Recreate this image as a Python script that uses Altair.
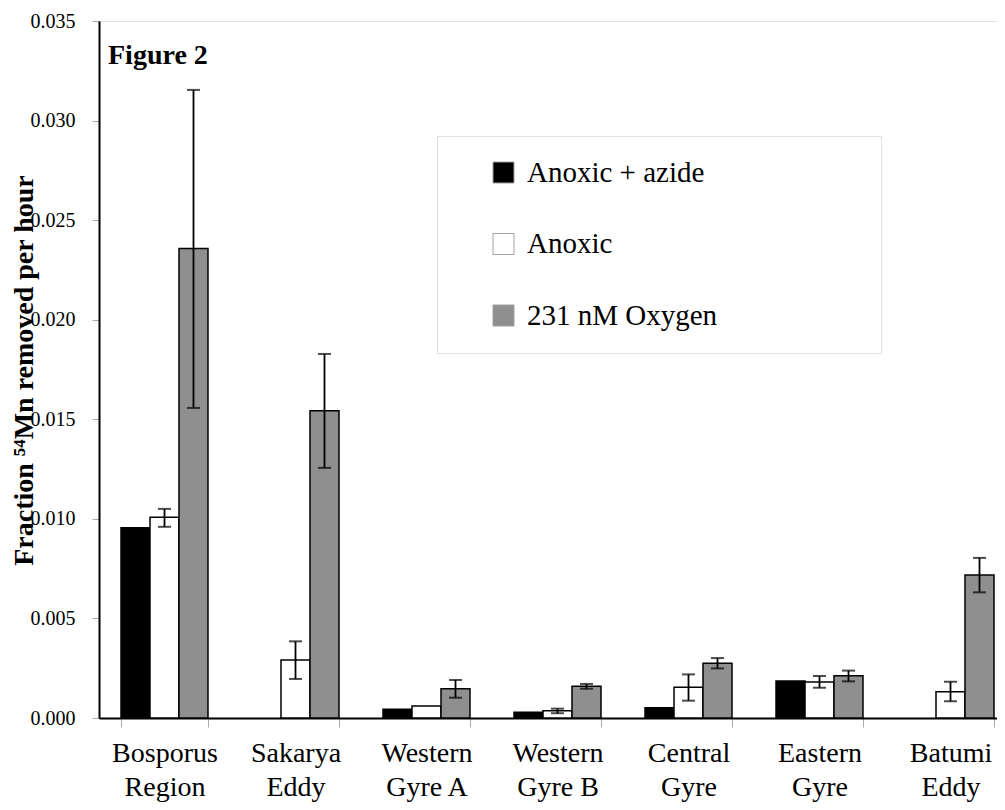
import altair as alt
import pandas as pd

regions = ["Bosporus Region", "Sakarya Eddy", "Western Gyre A", "Western Gyre B",
           "Central Gyre", "Eastern Gyre", "Batumi Eddy"]
series = ["Anoxic + azide", "Anoxic", "231 nM Oxygen"]
colors = ["#000000", "#ffffff", "#8f8f8f"]

azide = [0.00955, None, 0.00044, 0.00029, 0.00052, 0.00186, None]
anoxic = [0.01008, 0.00291, 0.00060, 0.00037, 0.00154, 0.00181, 0.00132]
anoxic_lo = [0.00960, 0.00196, None, 0.00024, 0.00087, 0.00152, 0.00084]
anoxic_hi = [0.01050, 0.00385, None, 0.00047, 0.00219, 0.00211, 0.00182]
oxygen = [0.02357, 0.01543, 0.00147, 0.00159, 0.00275, 0.00212, 0.00718]
oxygen_lo = [0.01557, 0.01256, 0.00102, 0.00147, 0.00249, 0.00184, 0.00631]
oxygen_hi = [0.03154, 0.01828, 0.00191, 0.00171, 0.00301, 0.00238, 0.00804]

rows = []
for i, r in enumerate(regions):
    rows.append({"region": r, "series": series[0], "value": azide[i], "lo": None, "hi": None})
    rows.append({"region": r, "series": series[1], "value": anoxic[i], "lo": anoxic_lo[i], "hi": anoxic_hi[i]})
    rows.append({"region": r, "series": series[2], "value": oxygen[i], "lo": oxygen_lo[i], "hi": oxygen_hi[i]})
df = pd.DataFrame(rows)

FONT = "'Times New Roman', 'Liberation Serif', Tinos, serif"

x_enc = alt.X("region:N", sort=regions,
              scale=alt.Scale(domain=regions, range=[0, 917], paddingInner=0.336, paddingOuter=0.168),
              axis=alt.Axis(title=None, labelAngle=0, labelFont=FONT, labelFontSize=28,
                            labelColor="black", labelPadding=12, labelLineHeight=34,
                            labelBaseline="top",
                            labelExpr="[substring(datum.label,0,indexof(datum.label,' ')), substring(datum.label,indexof(datum.label,' ')+1)]",
                            tickBand="extent", tickSize=9, tickColor="#aaaaaa", tickWidth=1,
                            domainColor="black", domainWidth=2))
xo_enc = alt.XOffset("series:N", sort=series, scale=alt.Scale(domain=series, paddingInner=0, paddingOuter=0))

base = alt.Chart(df)

bars = base.transform_filter("datum.value != null").mark_bar(stroke="black", strokeWidth=1.5).encode(
    x=x_enc,
    xOffset=xo_enc,
    y=alt.Y("value:Q",
            scale=alt.Scale(domain=[0, 0.035], nice=False, zero=True),
            axis=alt.Axis(values=[0, 0.005, 0.01, 0.015, 0.02, 0.025, 0.03, 0.035], format=".3f",
                          labelFont=FONT, labelFontSize=20, labelColor="black", labelPadding=17,
                          tickSize=7, tickColor="#aaaaaa", tickWidth=1, grid=False,
                          domainColor="black", domainWidth=2,
                          title="Fraction \u2075\u2074Mn removed per hour",
                          titleFont=FONT, titleFontSize=28, titleFontWeight="bold", titleColor="black",
                          titleAngle=-90, titleX=-61, titleY=349, titleBaseline="bottom",
                          titleAlign="center")),
    fill=alt.Fill("series:N", sort=series,
                  scale=alt.Scale(domain=series, range=colors),
                  legend=alt.Legend(title=" ", titleOrient="right", titlePadding=142,
                                    orient="none", legendX=338, legendY=115,
                                    symbolType="square", symbolSize=441, symbolOffset=30,
                                    symbolStrokeColor="#a0a0a0", symbolStrokeWidth=1,
                                    labelFont=FONT, labelFontSize=29, labelColor="black",
                                    labelLimit=400,
                                    labelOffset=9, rowPadding=41.5, padding=22,
                                    strokeColor="#e0e0e0", fillColor="white")),
)

err = base.transform_filter("datum.lo != null")

rules = err.mark_rule(color="black", strokeWidth=1.8).encode(
    x=x_enc, xOffset=xo_enc, y="lo:Q", y2="hi:Q")
caps_lo = err.mark_tick(color="black", thickness=2, size=13).encode(
    x=x_enc, xOffset=xo_enc, y="lo:Q")
caps_hi = err.mark_tick(color="black", thickness=2, size=13).encode(
    x=x_enc, xOffset=xo_enc, y="hi:Q")

chart = alt.layer(bars, rules, caps_lo, caps_hi).properties(
    width=898, height=697,
    autosize=alt.AutoSizeParams(type="none"),
    padding={"left": 91, "top": 13, "right": 0, "bottom": 85},
    title=alt.TitleParams("Figure 2", anchor="start", frame="group", orient="top",
                          font=FONT, fontSize=28, fontWeight="bold", color="black",
                          baseline="alphabetic", offset=0, dx=9, dy=81),
).configure_view(stroke=None).configure(
    background="white", font=FONT
).configure_axis(labelFont=FONT, titleFont=FONT).configure_legend(labelFont=FONT, titleFont=FONT)

chart.save("out.html", embed_options={"renderer": "svg", "actions": False})
